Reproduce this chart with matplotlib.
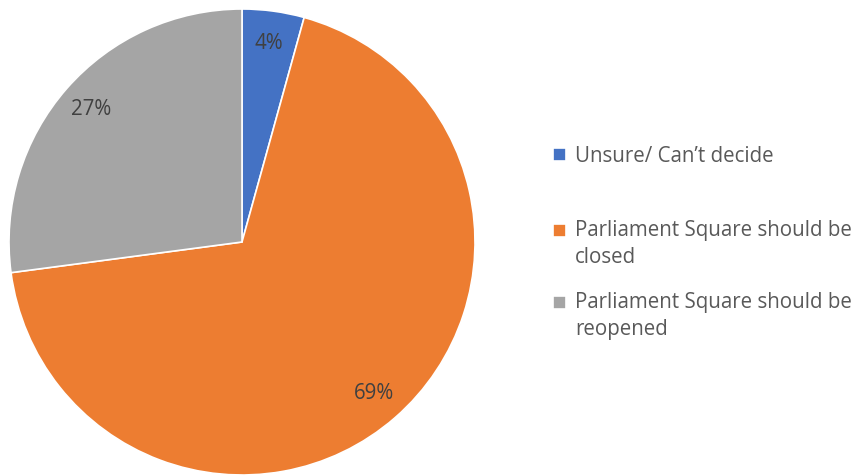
import matplotlib.pyplot as plt

plt.rcParams['font.family'] = ['Open Sans', 'DejaVu Sans']

# data
labels = ["Unsure/ Can\u2019t decide",
          "Parliament Square should be\nclosed",
          "Parliament Square should be\nreopened"]
values = [4.3, 68.6, 27.1]
colors = ["#4472C4", "#ED7D31", "#A5A5A5"]
legend_tops = [146, 220, 292]  # pixel rows from top

fs = 14.8
ls = 1.4

fig = plt.figure(figsize=(8.57, 4.76), dpi=100)
ax = fig.add_axes([242/857 - 233/857, (476 - 242 - 233)/476, 466/857, 466/476])

wedges, texts, autotexts = ax.pie(values, colors=colors, startangle=90, counterclock=False,
                                  autopct="%.0f%%", pctdistance=0.86,
                                  wedgeprops=dict(edgecolor="white", linewidth=1.2),
                                  textprops=dict(color="#404040", fontsize=fs))
ax.set_xlim(-1, 1)
ax.set_ylim(-1, 1)
ax.set_aspect("equal")

for w, lab, top in zip(wedges, labels, legend_tops):
    leg = fig.legend([w], [lab], loc="upper left", bbox_to_anchor=(553/857, 1 - top/476),
                     frameon=False, fontsize=fs, labelcolor="#595959",
                     handlelength=0.62, handleheight=0.62, handletextpad=0.45,
                     borderpad=0, borderaxespad=0)
    nlines = lab.count("\n") + 1
    for t in leg.get_texts():
        t.set_linespacing(ls)
    # put the square next to the first line, like Excel does
    h = leg.legend_handles[0]
    h.set_y(h.get_y() + (nlines - 1) * fs * ls / 2)

fig.savefig("out.png", dpi=100)
